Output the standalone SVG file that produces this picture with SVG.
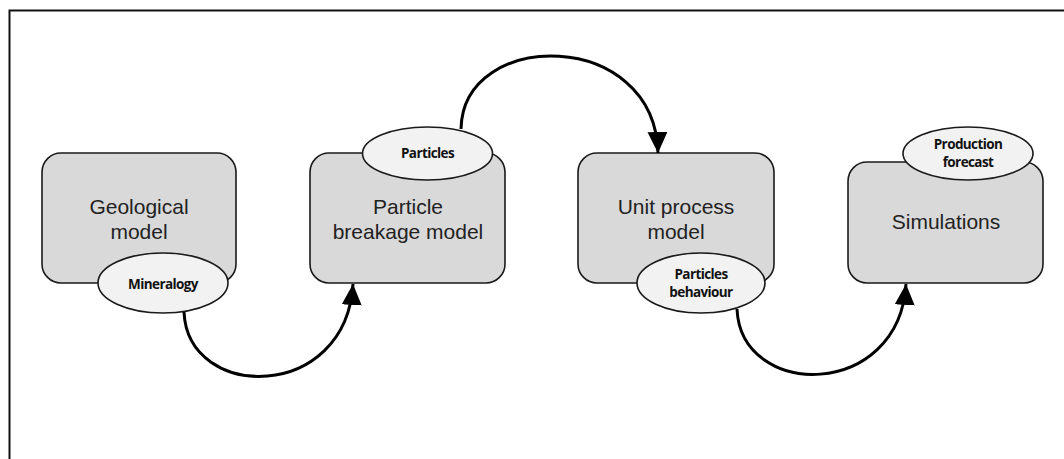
<svg xmlns="http://www.w3.org/2000/svg" width="1064" height="459" viewBox="0 0 1064 459">
  <style>
    .frame { fill: none; stroke: #111; stroke-width: 2; }
    .box { fill: #d9d9d9; stroke: #1a1a1a; stroke-width: 1.6; }
    .tag { fill: #f2f2f2; stroke: #1a1a1a; stroke-width: 1.6; }
    .title { font-family: "Liberation Sans", Arial, sans-serif; font-size: 21px; fill: #222; text-anchor: middle; }
    .label { font-family: "Open Sans", "Noto Sans", sans-serif; font-weight: 700; font-size: 13.5px; fill: #111; text-anchor: middle; letter-spacing: -0.6px; }
    .link { fill: none; stroke: #000; stroke-width: 3; }
  </style>
  <defs>
    <marker id="arrow" viewBox="0 0 20 20" refX="20" refY="10" markerWidth="21" markerHeight="21" markerUnits="userSpaceOnUse" orient="auto">
      <path d="M0,0.5 L20,10 L0,19.5 Z" fill="#000"/>
    </marker>
  </defs>

  <rect width="1064" height="459" fill="#ffffff"/>
  <!-- outer frame: only top and left edges are visible -->
  <path class="frame" d="M9.5,459 V10.5 H1064"/>

  <g id="geological-model">
    <rect class="box" x="42" y="153" width="194" height="130" rx="19" ry="19"/>
    <text class="title" x="139" y="214">Geological</text>
    <text class="title" x="139" y="239">model</text>
    <ellipse class="tag" cx="163" cy="283" rx="65" ry="30"/>
    <text class="label" x="163" y="289">Mineralogy</text>
  </g>

  <g id="particle-breakage-model">
    <rect class="box" x="310" y="153" width="195" height="130" rx="19" ry="19"/>
    <text class="title" x="408" y="214">Particle</text>
    <text class="title" x="408" y="239">breakage model</text>
    <ellipse class="tag" cx="427.5" cy="153.5" rx="65" ry="26.5"/>
    <text class="label" x="427.5" y="158">Particles</text>
  </g>

  <g id="unit-process-model">
    <rect class="box" x="578" y="153" width="196" height="130" rx="19" ry="19"/>
    <text class="title" x="676" y="214">Unit process</text>
    <text class="title" x="676" y="239">model</text>
    <ellipse class="tag" cx="701" cy="283" rx="64" ry="30"/>
    <text class="label" x="701" y="279">Particles</text>
    <text class="label" x="701" y="297">behaviour</text>
  </g>

  <g id="simulations">
    <rect class="box" x="848" y="162" width="195" height="121" rx="19" ry="19"/>
    <text class="title" x="946" y="229">Simulations</text>
    <ellipse class="tag" cx="968" cy="153.5" rx="65" ry="26.5"/>
    <text class="label" x="968" y="149">Production</text>
    <text class="label" x="968" y="167">forecast</text>
  </g>

  <g id="connectors">
    <path class="link" marker-end="url(#arrow)" d="M184,312 C188,402 346,402 353,284"/>
    <path class="link" marker-end="url(#arrow)" d="M461,129 C463,28 655,28 658,153"/>
    <path class="link" marker-end="url(#arrow)" d="M737,309 C741,400 899,400 906,284"/>
  </g>
</svg>
